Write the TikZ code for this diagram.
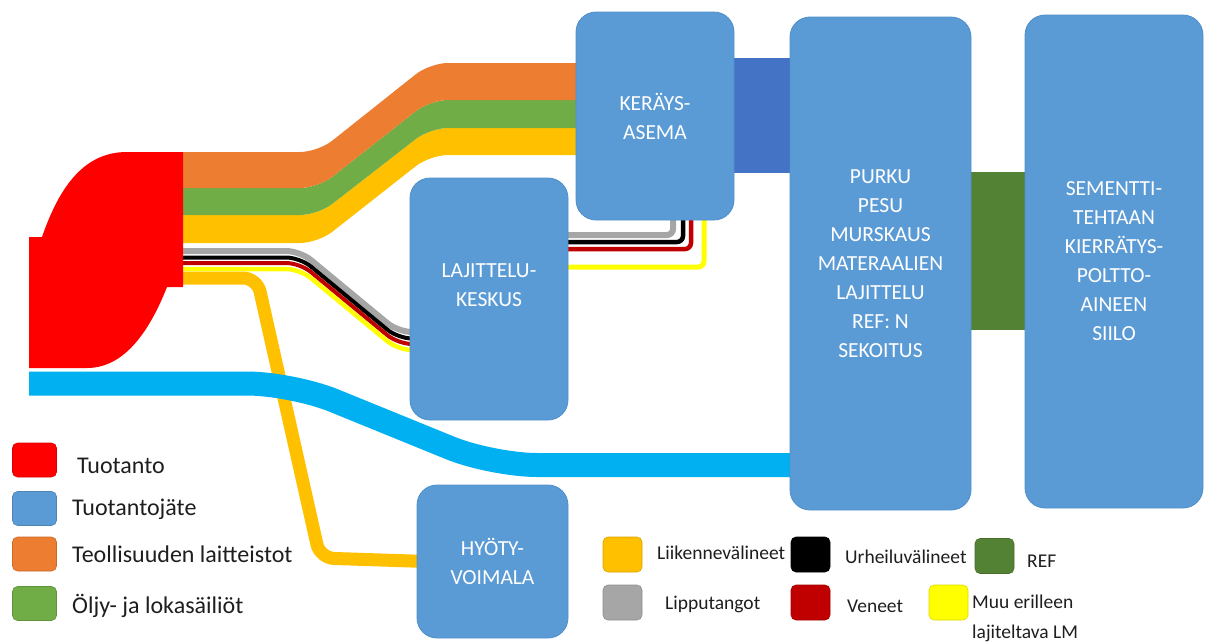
\documentclass[tikz,border=0pt]{standalone}
\usepackage{fontspec}
\setmainfont{Carlito}
\pgfdeclarelayer{background}
\pgfsetlayers{background,main}

\definecolor{boxblue}{RGB}{91,155,213}
\definecolor{boxedge}{RGB}{78,142,202}
\definecolor{prodred}{RGB}{255,0,0}
\definecolor{indorange}{RGB}{237,125,49}
\definecolor{tankgreen}{RGB}{112,173,71}
\definecolor{vehyellow}{RGB}{255,192,0}
\definecolor{wastecyan}{RGB}{0,176,240}
\definecolor{linkblue}{RGB}{68,114,196}
\definecolor{refgreen}{RGB}{84,130,53}
\definecolor{flaggray}{RGB}{166,166,166}
\definecolor{boatred}{RGB}{192,0,0}
\definecolor{misyellow}{RGB}{255,255,0}
\definecolor{legendtext}{RGB}{30,30,30}

\begin{document}
\begin{tikzpicture}[x=1pt,y=-1pt,
  stage/.style={fill=boxblue, draw=boxedge, line width=0.8pt, rounded corners=20pt,
    inner sep=0pt, text=white, align=center, font=\fontsize{21.5}{29}\selectfont},
  stagetext/.style={inner sep=0pt, text=white, align=center, font=\fontsize{21.5}{29}\selectfont},
  swatch/.style={fill=#1, draw=#1!85!black, line width=0.6pt, rounded corners=5pt,
    inner sep=0pt, minimum width=44pt, minimum height=34pt},
  smallswatch/.style={fill=#1, draw=#1!85!black, line width=0.6pt, rounded corners=5pt,
    inner sep=0pt, minimum width=39pt, minimum height=35pt},
  bigkey/.style={anchor=base west, inner sep=0pt, text=legendtext, font=\fontsize{24}{28}\selectfont},
  smallkey/.style={anchor=base west, inner sep=0pt, text=legendtext, font=\fontsize{19.5}{30}\selectfont},
  thinflow/.style={line width=#1, rounded corners=14pt},
  cornerflow/.style={line width=#1, rounded corners=6pt}
]
\useasboundingbox (0,0) rectangle (1219,643);

% process stages
\node[stage, minimum width=158pt, minimum height=208pt] (ker) at (655,116) {KERÄYS-\\ASEMA};
\node[stage, minimum width=181pt, minimum height=493pt] (purku) at (880.5,263.5)
  {PURKU\\PESU\\MURSKAUS\\MATERAALIEN\\LAJITTELU\\REF: N\\SEKOITUS};
\node[stage, minimum width=178pt, minimum height=493pt] (sem) at (1114,261.5)
  {SEMENTTI-\\TEHTAAN\\KIERRÄTYS-\\POLTTO-\\AINEEN\\SIILO};
\node[stage, minimum width=158pt, minimum height=242pt] (laj) at (489,299) {};
\node[stagetext] (lajtext) at ([yshift=14pt]laj.center) {LAJITTELU-\\KESKUS};
\node[stage, minimum width=151pt, minimum height=153pt] (hyoty) at (492.5,561.5) {HYÖTY-\\VOIMALA};

\begin{pgfonlayer}{background}
  % wide flows towards the collection station
  \fill[vehyellow, rounded corners=18pt] (150,215) -- (318,215) -- (430,128) -- (620,128)
    -- (620,155) -- (430,155) -- (318,243) -- (150,243) -- cycle;
  \fill[tankgreen, rounded corners=18pt] (150,188) -- (318,188) -- (430,100) -- (620,100)
    -- (620,128) -- (430,128) -- (318,215) -- (150,215) -- cycle;
  \fill[indorange, rounded corners=18pt] (150,152) -- (318,152) -- (430,63) -- (620,63)
    -- (620,100) -- (430,100) -- (318,188) -- (150,188) -- cycle;

  % narrow flows into the sorting centre
  \draw[flaggray, thinflow=6pt]  (170,251)   -- (300,251)   -- (398,332)   -- (425,332);
  \draw[black, thinflow=4pt]     (170,257.5) -- (300,257.5) -- (398,338.5) -- (425,338.5);
  \draw[boatred, thinflow=4pt]   (170,263)   -- (300,263)   -- (398,344)   -- (425,344);
  \draw[misyellow, thinflow=4.5pt] (170,269) -- (300,269)   -- (398,350)   -- (425,350);

  % narrow flows from the sorting centre up to the collection station
  \draw[flaggray, cornerflow=6pt]   ([xshift=-8pt]laj.east |- 0,235) -- (673,235) -- ([yshift=6pt]ker.south -| 673,0);
  \draw[black, cornerflow=4.5pt]    ([xshift=-8pt]laj.east |- 0,242) -- (683,242) -- ([yshift=6pt]ker.south -| 683,0);
  \draw[boatred, cornerflow=4.5pt]  ([xshift=-8pt]laj.east |- 0,249) -- (691,249) -- ([yshift=6pt]ker.south -| 691,0);
  \draw[misyellow, cornerflow=5pt]  ([xshift=-8pt]laj.east |- 0,267) -- (704,267) -- ([yshift=6pt]ker.south -| 704,0);

  % vehicles to the power plant
  \draw[vehyellow, line width=13pt, rounded corners=14pt]
    (170,278) -- (257,278) -- (320,558) -- ([xshift=10pt]hyoty.west);

  % production waste straight to processing
  \draw[wastecyan, line width=24pt, rounded corners=45pt]
    (29,383.5) -- (292,383.5) -- (492,465) -- ([xshift=10pt]purku.west |- 0,465);

  % production source
  \fill[prodred] (29,237) -- (42,237) .. controls (60,185) and (85,152) .. (127,152)
    -- (183,152) -- (183,287) -- (167,287) .. controls (150,330) and (125,368) .. (87,368)
    -- (29,368) -- cycle;

  % links between the stages
  \fill[linkblue] ([xshift=-6pt,yshift=58pt]ker.east) rectangle ([xshift=6pt,yshift=90.5pt]purku.west);
  \fill[refgreen] ([xshift=-4pt,yshift=91.5pt]purku.east) rectangle ([xshift=4pt,yshift=-68.5pt]sem.west);
\end{pgfonlayer}

% legend, left column
\node[swatch=prodred]   (kprod)  at (34.5,460)   {};
\node[swatch=boxblue]   (kwaste) at (34.5,508.5) {};
\node[swatch=indorange] (kind)   at (34.5,554)   {};
\node[swatch=tankgreen] (ktank)  at (34.5,603.5) {};
\node[bigkey] (tprod)  at (77,473) {Tuotanto};
\node[bigkey] (twaste) at (72,515) {Tuotantojäte};
\node[bigkey] (tind)   at (72,562) {Teollisuuden laitteistot};
\node[bigkey] (ttank)  at (72,613) {Öljy- ja lokasäiliöt};

% legend, bottom rows
\node[smallswatch=vehyellow] (kveh)   at (622.5,554.5) {};
\node[smallswatch=black]     (ksport) at (810.5,554.5) {};
\node[smallswatch=refgreen]  (kref)   at (994.5,556)   {};
\node[smallswatch=flaggray]  (kflag)  at (622.5,602.5) {};
\node[smallswatch=boatred]   (kboat)  at (810.5,602.5) {};
\node[smallswatch=misyellow] (kmisc)  at (948.5,602.5) {};
\node[smallkey] (tveh)   at (657,559)  {Liikennevälineet};
\node[smallkey] (tsport) at (845,563)  {Urheiluvälineet};
\node[smallkey] (tref)   at (1027,567) {REF};
\node[smallkey] (tflag)  at (665,609)  {Lipputangot};
\node[smallkey] (tboat)  at (847,612)  {Veneet};
\node[smallkey, anchor=west, align=left] (tmisc) at (972,618) {Muu erilleen\\lajiteltava LM};
\end{tikzpicture}
\end{document}
